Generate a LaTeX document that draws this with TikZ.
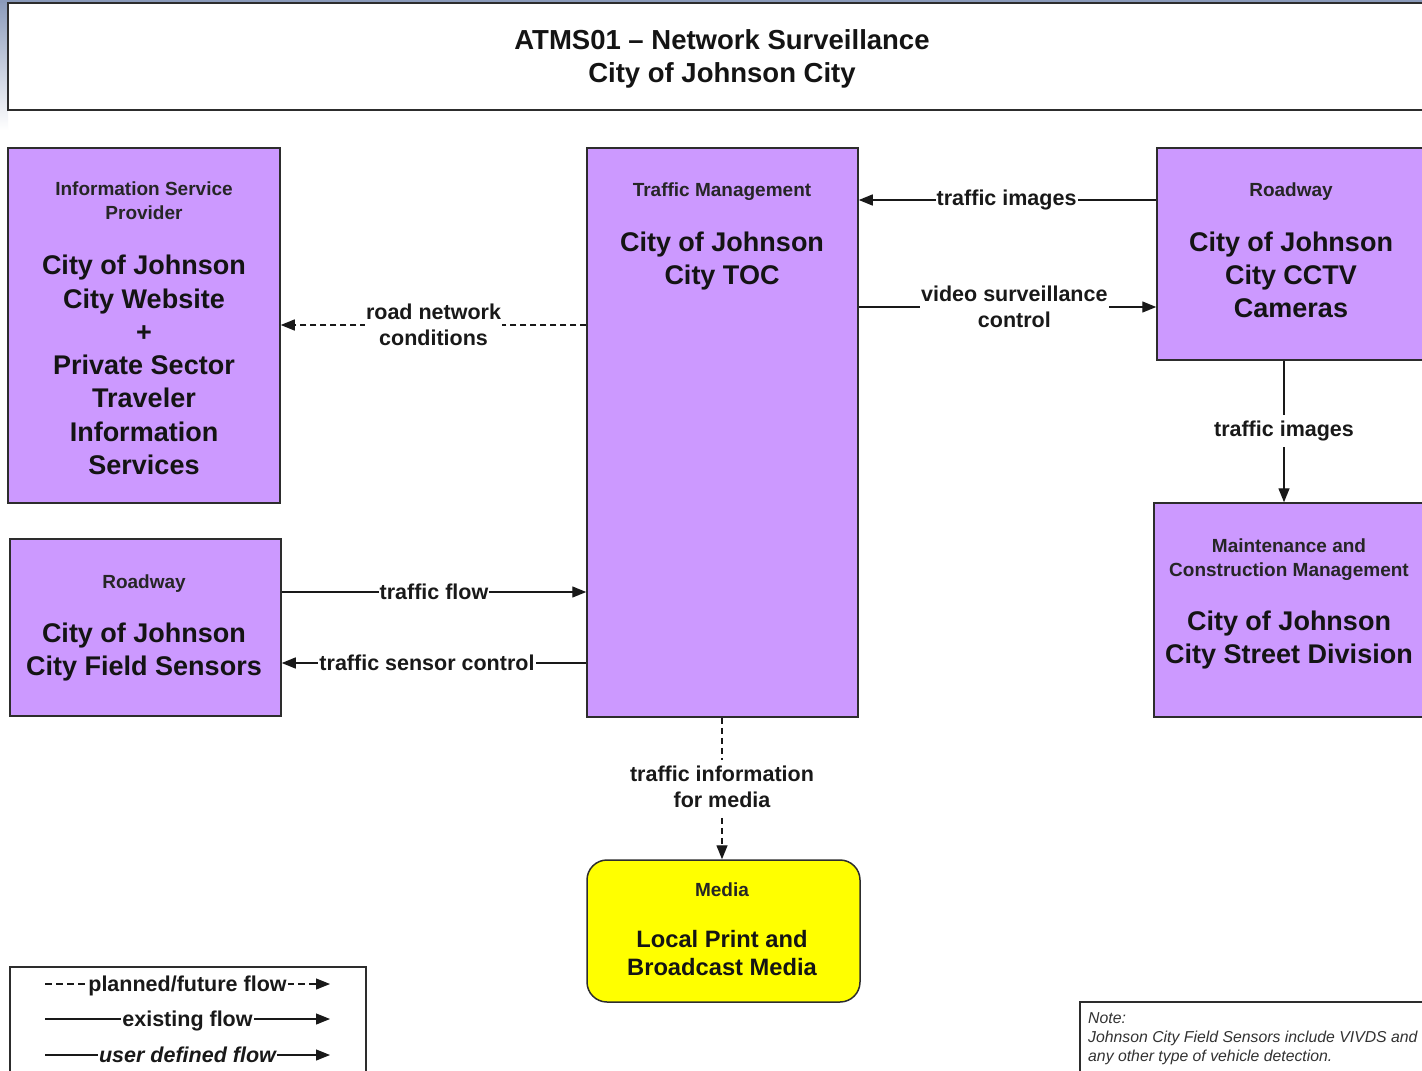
\documentclass[tikz,border=0pt]{standalone}
\usepackage{fontspec}
\setmainfont{Liberation Sans}
\usetikzlibrary{arrows.meta}
\definecolor{boxpurple}{RGB}{204,153,255}
\definecolor{mediayellow}{RGB}{255,255,0}
\definecolor{edgegray}{RGB}{45,45,45}
\definecolor{topblue}{RGB}{138,154,186}
\definecolor{notegray}{RGB}{50,50,50}
\tikzset{
  box/.style={draw=edgegray, line width=1.5pt, fill=boxpurple, rectangle, inner sep=0pt},
  cat/.style={font=\fontsize{19}{24}\selectfont\bfseries, align=center, text=black!85, inner sep=0pt, yshift=-2.5pt},
  ename/.style={font=\fontsize{27}{33.3}\selectfont\bfseries, align=center, inner sep=0pt, text=black!92, yshift=-2.5pt},
  lbl/.style={font=\fontsize{21.5}{26}\selectfont\bfseries, align=center, fill=white, inner xsep=1pt, inner ysep=6pt, text=black!90},
  flow/.style={draw=black!90, line width=1.4pt, -{Triangle[length=14pt,width=11pt]}},
  planned/.style={flow, dash pattern=on 6pt off 4pt},
}
\begin{document}
\begin{tikzpicture}[x=1pt, y=-1pt]
\useasboundingbox (0,0) rectangle (1422,1071);
\clip (0,0) rectangle (1422,1071);
\fill[white] (0,0) rectangle (1422,1071);
\shade[top color=topblue, bottom color=white] (0,0) rectangle (8,130);
\fill[topblue] (0,0) rectangle (1422,3);

% title
\node[box, fill=white, minimum width=1428pt, minimum height=107pt] (title) at (722,56.5) {};
\node[inner sep=0pt, font=\fontsize{27.5}{33}\selectfont\bfseries, align=center, text=black!92]
      (title-t) at (722,59) {ATMS01 -- Network Surveillance\\City of Johnson City};

% boxes
\node[box, minimum width=272pt, minimum height=355pt] (isp) at (144,325.5) {};
\node[box, minimum width=271pt, minimum height=177pt] (sens) at (145.5,627.5) {};
\node[box, minimum width=271pt, minimum height=569pt] (toc) at (722.5,432.5) {};
\node[box, minimum width=268pt, minimum height=212pt] (cctv) at (1291,254) {};
\node[box, minimum width=270pt, minimum height=214pt] (street) at (1289,610) {};
\node[box, fill=mediayellow, rounded corners=20pt, minimum width=273pt, minimum height=142pt] (media) at (723.5,931) {};

% box texts
\node[cat] (isp-c) at (144,198.5) {Information Service\\Provider};
\node[ename] (isp-n) at (144,362.5) {City of Johnson\\City Website\\+\\Private Sector\\Traveler\\Information\\Services};
\node[cat] (sens-c) at (144,581) {Roadway};
\node[ename] (sens-n) at (144,649.5) {City of Johnson\\City Field Sensors};
\node[cat] (toc-c) at (722,189) {Traffic Management};
\node[ename] (toc-n) at (722,258.5) {City of Johnson\\City TOC};
\node[cat] (cctv-c) at (1291,189) {Roadway};
\node[ename] (cctv-n) at (1291,272.5) {City of Johnson\\City CCTV\\Cameras};
\node[cat] (street-c) at (1289,557) {Maintenance and\\Construction Management};
\node[ename] (street-n) at (1289,637.5) {City of Johnson\\City Street Division};
\node[cat] (media-c) at (722,887) {Media};
\node[ename, font=\fontsize{23.7}{28.5}\selectfont\bfseries] (media-n) at (722,950.5) {Local Print and\\Broadcast Media};

% flows
\draw[planned] (toc.west |- 0,325) -- (isp.east |- 0,325)
  node[lbl, pos=0.5] {road network\\conditions};
\draw[flow] (cctv.west |- 0,200) -- (toc.east |- 0,200)
  node[lbl, pos=0.503] {traffic images};
\draw[flow] (toc.east |- 0,307) -- (cctv.west |- 0,307)
  node[lbl, pos=0.523] {video surveillance\\control};
\draw[flow] (cctv.south -| 1284,0) -- (street.north -| 1284,0)
  node[lbl, pos=0.497] {traffic images};
\draw[flow] (sens.east |- 0,592) -- (toc.west |- 0,592)
  node[lbl, pos=0.5] {traffic flow};
\draw[flow] (toc.west |- 0,663) -- (sens.east |- 0,663)
  node[lbl, pos=0.523] {traffic sensor control};
\draw[planned] (toc.south -| 722,0) -- (media.north -| 722,0)
  node[lbl, pos=0.49] {traffic information\\for media};

% legend
\node[box, fill=white, line width=1.3pt, minimum width=356pt, minimum height=113pt] (legend) at (188,1023.5) {};
\coordinate (l1a) at (45,984);  \coordinate (l1b) at (330,984);
\coordinate (l2a) at (45,1019); \coordinate (l2b) at (330,1019);
\coordinate (l3a) at (45,1055); \coordinate (l3b) at (330,1055);
\draw[planned, line width=1.2pt, dash pattern=on 7pt off 4pt] (l1a) -- (l1b) node[lbl, pos=0.5, yshift=-1.5pt] {planned/future flow};
\draw[flow, line width=1.2pt] (l2a) -- (l2b) node[lbl, pos=0.5, yshift=-1.5pt] {existing flow};
\draw[flow, line width=1.2pt] (l3a) -- (l3b) node[lbl, pos=0.5, font=\fontsize{21.5}{26}\selectfont\bfseries\itshape] {user defined flow};

% note
\node[box, fill=white, line width=1.2pt, minimum width=350pt, minimum height=78pt] (note) at (1255,1041) {};
\node[anchor=west, align=left, inner sep=0pt, text=notegray,
      font=\fontsize{15.8}{19}\selectfont\itshape] (note-t) at (1088,1038.5)
  {Note:\\Johnson City Field Sensors include VIVDS and\\any other type of vehicle detection.};
\end{tikzpicture}
\end{document}
